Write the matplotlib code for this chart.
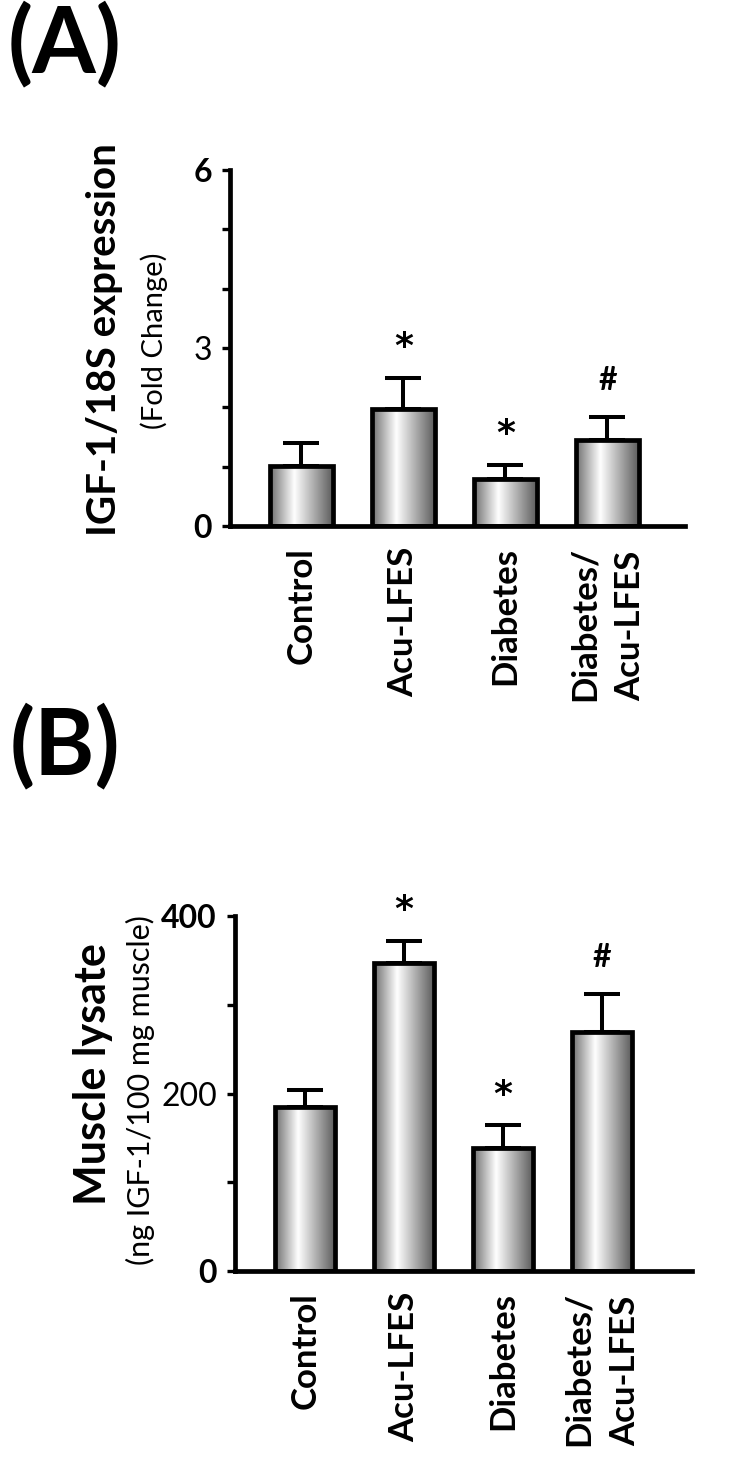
import matplotlib
matplotlib.use('Agg')
import matplotlib.pyplot as plt
import numpy as np
from matplotlib.colors import LinearSegmentedColormap

plt.rcParams['font.family'] = ['Lato', 'DejaVu Sans']

groups = ['Control', 'Acu-LFES', 'Diabetes', 'Diabetes/\nAcu-LFES']

# (A) IGF-1/18S mRNA, fold change
igf_mrna = [1.01, 1.97, 0.79, 1.45]
igf_mrna_err = [0.39, 0.53, 0.24, 0.39]
igf_mrna_sig = ['', '*', '*', '#']

# (B) muscle lysate IGF-1 protein
igf_prot = [185, 347, 139, 269]
igf_prot_err = [19, 25, 25, 43]
igf_prot_sig = ['', '*', '*', '#']

grad_cmap = LinearSegmentedColormap.from_list(
    'bargrad', [(0.0, '#6e6e6e'), (0.38, '#ffffff'), (1.0, '#585858')])
grad = np.linspace(0, 1, 256).reshape(1, -1)

LW = 3.4


def gradient_bars(ax, vals, errs, sigs, ylim, major, minor, bold_ticks,
                  xlim, width, sig_off):
    x = np.arange(len(vals))
    bars = ax.bar(x, vals, width=width, facecolor='none', edgecolor='black',
                  linewidth=LW, zorder=3)
    for b in bars:
        x0, w, h = b.get_x(), b.get_width(), b.get_height()
        im = ax.imshow(grad, extent=[x0, x0 + w, 0, h], aspect='auto',
                       cmap=grad_cmap, zorder=2, interpolation='bicubic')
        im.set_clip_path(b)
    ax.errorbar(x, vals, yerr=[np.zeros(len(vals)), errs], fmt='none',
                ecolor='black', elinewidth=LW * 0.85, capsize=13,
                capthick=LW * 0.85, zorder=4)
    for xi, v, e, s in zip(x, vals, errs, sigs):
        if s == '*':
            ax.annotate(s, (xi, v + e), xytext=(0, sig_off - 4),
                        textcoords='offset points', ha='center', va='center',
                        fontsize=26, fontweight='bold', family='DejaVu Sans')
        elif s:
            ax.annotate(s, (xi, v + e), xytext=(0, sig_off),
                        textcoords='offset points', ha='center', va='center',
                        fontsize=23, fontweight='bold')

    ax.set_xlim(*xlim)
    ax.set_ylim(*ylim)
    ax.spines['top'].set_visible(False)
    ax.spines['right'].set_visible(False)
    ax.spines['left'].set_linewidth(LW)
    ax.spines['bottom'].set_linewidth(LW)
    ax.spines['left'].set_capstyle('projecting')
    ax.spines['bottom'].set_capstyle('projecting')

    ax.set_yticks(major)
    ax.set_yticks(minor, minor=True)
    ax.set_yticklabels([str(m) for m in major], fontsize=23)
    for lab, bw in zip(ax.get_yticklabels(), bold_ticks):
        lab.set_fontweight('bold' if bw else 'normal')
    ax.tick_params(axis='y', which='both', direction='out', length=6,
                   width=2.4, pad=7)

    ax.set_xticks(x)
    ax.set_xticklabels(groups, rotation=90, fontsize=25, fontweight='bold',
                       va='top', ha='center', multialignment='left',
                       linespacing=1.55)
    ax.tick_params(axis='x', length=0, pad=15)


fig = plt.figure(figsize=(7.33, 14.62), dpi=100)

axA = fig.add_axes([230 / 733, 1 - 526 / 1462, 455 / 733, 356 / 1462])
gradient_bars(axA, igf_mrna, igf_mrna_err, igf_mrna_sig, (0, 6),
              [0, 3, 6], [1, 2, 4, 5], [True, False, True],
              (-0.70, 3.76), 0.62, 26)
axA.text(-0.275, 0.525, 'IGF-1/18S expression', transform=axA.transAxes,
         rotation=90, ha='center', va='center', fontsize=29,
         fontweight='bold')
axA.text(-0.167, 0.52, '(Fold Change)', transform=axA.transAxes,
         rotation=90, ha='center', va='center', fontsize=21)

axB = fig.add_axes([235 / 733, 1 - 1271 / 1462, 457 / 733, 355 / 1462])
gradient_bars(axB, igf_prot, igf_prot_err, igf_prot_sig, (0, 400),
              [0, 200, 400], [100, 300], [True, False, True],
              (-0.71, 3.91), 0.61, 26)
axB.text(-0.311, 0.555, 'Muscle lysate', transform=axB.transAxes,
         rotation=90, ha='center', va='center', fontsize=31,
         fontweight='bold')
axB.text(-0.206, 0.51, '(ng IGF-1/100 mg muscle)', transform=axB.transAxes,
         rotation=90, ha='center', va='center', fontsize=22)

fig.text(8 / 733, 1 - 2 / 1462, '(A)', fontsize=66, fontweight='bold',
         ha='left', va='top')
fig.text(10 / 733, 1 - 704 / 1462, '(B)', fontsize=66, fontweight='bold',
         ha='left', va='top')

fig.savefig('out.png', dpi=100, facecolor='white')
